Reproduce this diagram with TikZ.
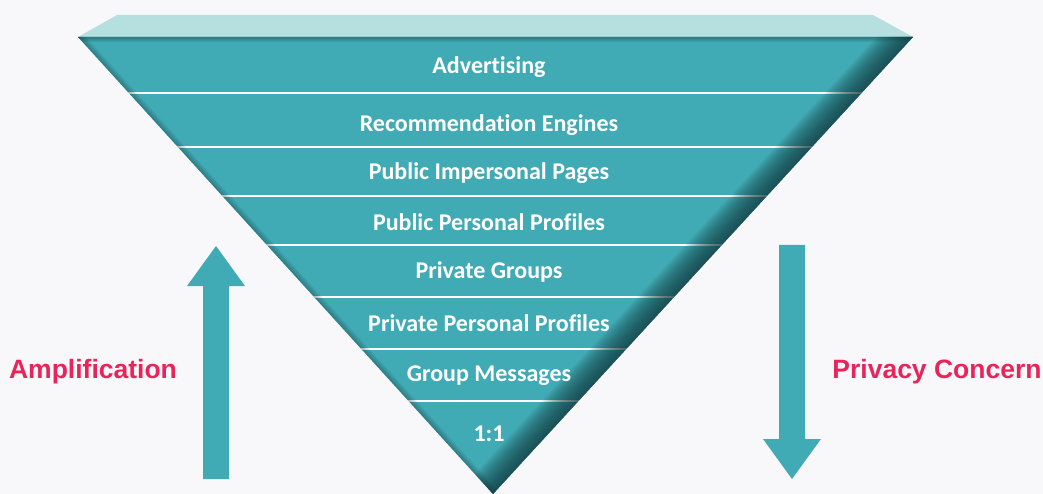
\documentclass[tikz,border=0pt]{standalone}
\usepackage{fontspec}
\setmainfont{Carlito}[Ligatures=NoCommon]
\newfontfamily\arialfont{Liberation Sans}
\definecolor{bgc}{HTML}{F8F8FB}
\definecolor{teal1}{HTML}{41ABB5}
\definecolor{tealtop}{HTML}{B5E0DF}
\definecolor{tealdark}{HTML}{12393D}
\definecolor{redlab}{HTML}{E8245A}
\tikzset{
  band/.style={text=white, font=\bfseries\fontsize{24}{26}\selectfont, anchor=center, inner sep=0pt},
  sidelabel/.style={text=redlab, font=\arialfont\bfseries\fontsize{26.5}{28}\selectfont, anchor=center, inner sep=0pt},
  sep/.style={draw=white, line width=1.6pt},
  blockarrow/.style={fill=teal1, draw=none}
}
\begin{document}
\begin{tikzpicture}[x=1pt,y=-1pt]
\useasboundingbox (0,0) rectangle (1043,494);
\fill[bgc] (0,0) rectangle (1043,494);
% top face
\fill[tealtop] (117,15) -- (873,15) -- (913,37) -- (78,37) -- cycle;
% triangle body
\coordinate (tl) at (78,37);
\coordinate (tr) at (913,37);
\coordinate (ap) at (493,494);
\fill[teal1] (tl) -- (tr) -- (ap) -- cycle;
\begin{scope}
  \clip (tl) -- (tr) -- (ap) -- cycle;
  % separators
  \foreach \yy in {93,147,196,245,297,349,401}
    \draw[sep] (60,\yy) -- (930,\yy);
  % inner shadows
  \foreach \i in {1,...,18}
    \draw[tealdark, opacity=0.07, line width={3*\i pt}] (tr) -- (ap);
  \foreach \i in {1,...,6}
    \draw[tealdark, opacity=0.07, line width={2*\i pt}] (tl) -- (ap);
  \foreach \i in {1,...,5}
    \draw[tealdark, opacity=0.1, line width={2*\i pt}] (tl) -- (tr);
\end{scope}
% labels
\node[band] (b1) at (489,67) {Advertising};
\node[band] (b2) at (489,125) {Recommendation Engines};
\node[band] (b3) at (489,173) {Public Impersonal Pages};
\node[band] (b4) at (489,222) {Public Personal Profiles};
\node[band] (b5) at (489,272) {Private Groups};
\node[band] (b6) at (489,323) {Private Personal Profiles};
\node[band] (b7) at (489,376) {Group Messages};
\node[band] (b8) at (489,434) {1:1};
% arrows
\fill[blockarrow] (203,479) -- (229,479) -- (229,286) -- (245,286) -- (216,246) -- (187,286) -- (203,286) -- cycle;
\fill[blockarrow] (779,245) -- (805,245) -- (805,439) -- (821,439) -- (792,479) -- (763,439) -- (779,439) -- cycle;
\node[sidelabel] (amp) at (93,372) {Amplification};
\node[sidelabel] (priv) at (937,372) {Privacy Concern};
\end{tikzpicture}
\end{document}
